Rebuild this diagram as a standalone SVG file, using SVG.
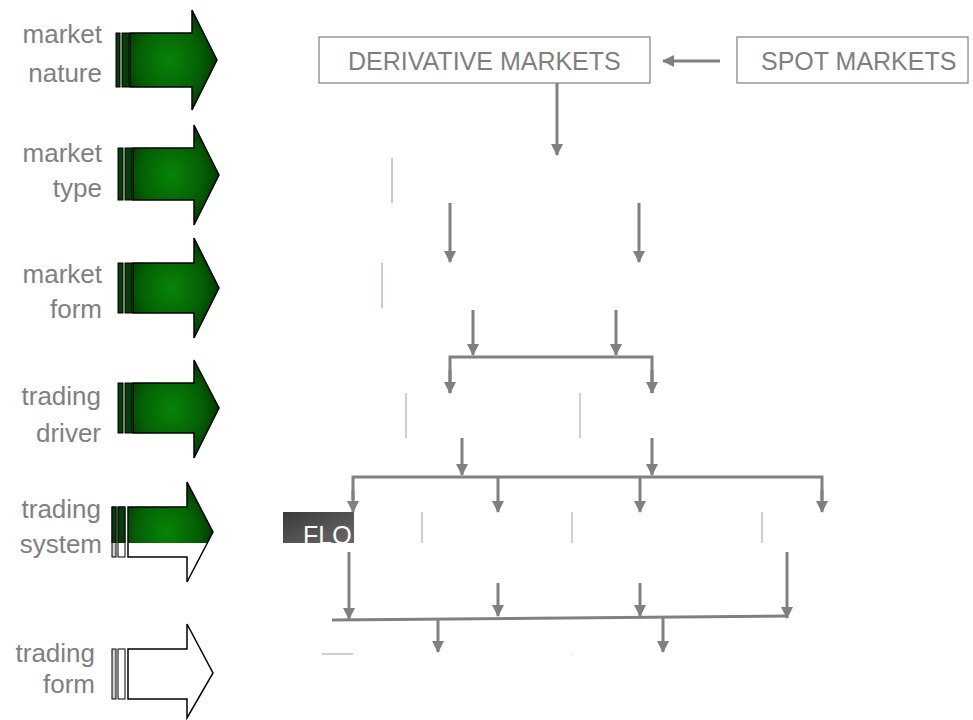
<svg xmlns="http://www.w3.org/2000/svg" width="973" height="720" viewBox="0 0 973 720">
<defs>
<radialGradient id="gg" cx="0.45" cy="0.5" r="0.62">
<stop offset="0" stop-color="#078507"/>
<stop offset="0.6" stop-color="#045e04"/>
<stop offset="1" stop-color="#002a00"/>
</radialGradient>
<linearGradient id="flo" x1="0" y1="0" x2="1" y2="1">
<stop offset="0" stop-color="#3a3a3a"/>
<stop offset="1" stop-color="#6a6a6a"/>
</linearGradient>
<clipPath id="c5"><rect x="100" y="470" width="130" height="73"/></clipPath>
<clipPath id="cflo"><rect x="283" y="512" width="71" height="31"/></clipPath>
<marker id="ah" viewBox="0 0 12 12" refX="11" refY="6" markerWidth="12" markerHeight="12" markerUnits="userSpaceOnUse" orient="auto">
<path d="M0,0 L12,6 L0,12 Z" fill="#808080"/>
</marker>
</defs>
<style>
.lbl{font-family:"Liberation Sans",Arial,sans-serif;font-size:26px;fill:#808080;text-anchor:end}
.arr{stroke:#000;stroke-width:1.5;stroke-linejoin:miter}
.bar{fill:#063d06;stroke:#000;stroke-width:1}
.box{fill:#fff;stroke:#808080;stroke-width:1.2}
.bt{font-family:"Liberation Sans",Arial,sans-serif;font-size:25px;fill:#7f7f7f}
.con{fill:none;stroke:#808080;stroke-width:3}
.ca{fill:none;stroke:#808080;stroke-width:3;marker-end:url(#ah)}
.thin{stroke:#a0a0a0;stroke-width:1}
.pink{stroke:#b08898;stroke-width:1}
</style>

<g id="lvl-market-nature">
<text class="lbl" x="102" y="43">market</text>
<text class="lbl" x="102" y="82">nature</text>
<rect class="bar" x="116" y="33" width="4" height="54"/>
<rect class="bar" x="122" y="33" width="7" height="54"/>
<polygon class="arr" fill="url(#gg)" points="130,33 192,33 192,10 217,60 192,110 192,87 130,87"/>
</g>
<g id="lvl-market-type">
<text class="lbl" x="102" y="162">market</text>
<text class="lbl" x="102" y="197">type</text>
<rect class="bar" x="118" y="148" width="5" height="52"/>
<rect class="bar" x="125" y="148" width="7" height="52"/>
<polygon class="arr" fill="url(#gg)" points="133,148 194,148 194,125 219,175 194,225 194,200 133,200"/>
</g>
<g id="lvl-market-form">
<text class="lbl" x="102" y="283">market</text>
<text class="lbl" x="102" y="318">form</text>
<rect class="bar" x="118" y="263" width="5" height="50"/>
<rect class="bar" x="125" y="263" width="7" height="50"/>
<polygon class="arr" fill="url(#gg)" points="133,263 194,263 194,238 219,288 194,338 194,313 133,313"/>
</g>
<g id="lvl-trading-driver">
<text class="lbl" x="101" y="405">trading</text>
<text class="lbl" x="101" y="442">driver</text>
<rect class="bar" x="118" y="383" width="5" height="50"/>
<rect class="bar" x="125" y="383" width="7" height="50"/>
<polygon class="arr" fill="url(#gg)" points="133,383 194,383 194,360 219,408 194,458 194,433 133,433"/>
</g>
<g id="lvl-trading-system">
<text class="lbl" x="101" y="518">trading</text>
<text class="lbl" x="102" y="553">system</text>
<rect x="112" y="507" width="4" height="50" fill="#d0d0d0" stroke="#000"/>
<rect x="118" y="507" width="7" height="50" fill="#fff" stroke="#000"/>
<g clip-path="url(#c5)">
<rect class="bar" x="112" y="507" width="4" height="50"/>
<rect class="bar" x="118" y="507" width="7" height="50"/>
</g>
<polygon fill="#fff" points="128,507 187,507 187,482 213,532 187,582 187,557 128,557"/>
<polygon fill="url(#gg)" clip-path="url(#c5)" points="128,507 187,507 187,482 213,532 187,582 187,557 128,557"/>
<polygon class="arr" fill="none" points="128,507 187,507 187,482 213,532 187,582 187,557 128,557"/>
</g>
<g id="lvl-trading-form">
<text class="lbl" x="95" y="662">trading</text>
<text class="lbl" x="95" y="693">form</text>
<rect x="112" y="649" width="4" height="50" fill="#d0d0d0" stroke="#000"/>
<rect x="118" y="649" width="7" height="50" fill="#fff" stroke="#000"/>
<polygon class="arr" fill="#fff" points="128,649 187,649 187,624 213,673 187,718 187,699 128,699"/>
</g>

<g id="derivative-markets">
<rect class="box" x="319" y="37" width="331" height="46"/>
<text class="bt" x="348" y="70">DERIVATIVE MARKETS</text>
</g>
<g id="spot-markets">
<rect class="box" x="737" y="37" width="231" height="46"/>
<text class="bt" x="761" y="70">SPOT MARKETS</text>
</g>
<g id="flo">
<rect x="283" y="512" width="71" height="31" fill="url(#flo)"/>
<text x="303" y="544" clip-path="url(#cflo)" font-family="'Liberation Sans',Arial,sans-serif" font-size="25" fill="#fff">FLO</text>
</g>
<g id="ghost-edges">
<line class="pink" x1="392" y1="158" x2="392" y2="203"/>
<line class="pink" x1="382" y1="263" x2="382" y2="308"/>
<line class="thin" x1="406" y1="393" x2="406" y2="438"/>
<line class="thin" x1="580" y1="393" x2="580" y2="438"/>
<line class="thin" x1="422" y1="512" x2="422" y2="543"/>
<line class="thin" x1="572" y1="512" x2="572" y2="543" stroke="#c8c8c8"/>
<line class="thin" x1="762" y1="512" x2="762" y2="543"/>
<line class="thin" x1="322" y1="654" x2="353" y2="654"/>
<rect x="571.5" y="653.5" width="1" height="1" fill="#c0c0c0"/>
</g>

<g id="connectors">
<line class="ca" x1="720" y1="61" x2="663" y2="61"/>
<line class="ca" x1="557" y1="83" x2="557" y2="155"/>
<line class="ca" x1="450" y1="203" x2="450" y2="262"/>
<line class="ca" x1="639" y1="203" x2="639" y2="262"/>
<line class="ca" x1="473" y1="310" x2="473" y2="355"/>
<line class="ca" x1="616" y1="310" x2="616" y2="355"/>
<polyline class="con" points="450,393 450,357 652,357 652,393"/>
<line class="ca" x1="450" y1="370" x2="450" y2="393"/>
<line class="ca" x1="652" y1="370" x2="652" y2="393"/>
<line class="ca" x1="462" y1="438" x2="462" y2="475"/>
<line class="ca" x1="652" y1="438" x2="652" y2="475"/>
<polyline class="con" points="353,500 353,477 822,477 822,500"/>
<line class="ca" x1="353" y1="490" x2="353" y2="512"/>
<line class="ca" x1="498" y1="477" x2="498" y2="512"/>
<line class="ca" x1="640" y1="477" x2="640" y2="512"/>
<line class="ca" x1="822" y1="490" x2="822" y2="512"/>
<line class="ca" x1="349" y1="552" x2="349" y2="619"/>
<line class="ca" x1="498" y1="583" x2="498" y2="616"/>
<line class="ca" x1="640" y1="583" x2="640" y2="616"/>
<line class="ca" x1="787" y1="552" x2="787" y2="618"/>
<line class="con" x1="332" y1="620" x2="787" y2="616"/>
<line class="ca" x1="438" y1="619" x2="438" y2="652"/>
<line class="ca" x1="663" y1="618" x2="663" y2="652"/>
</g>
</svg>
